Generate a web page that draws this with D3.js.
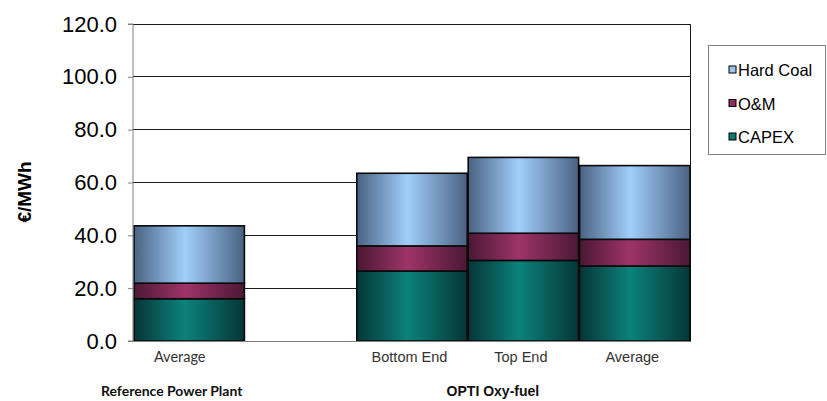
<!DOCTYPE html>
<html>
<head>
<meta charset="utf-8">
<script src="https://cdn.jsdelivr.net/npm/d3@7"></script>
<style>
  html, body { margin: 0; padding: 0; background: #fff; }
  svg { display: block; }
</style>
</head>
<body>
<svg id="chart" width="827" height="401"></svg>
<script>
// Cost of electricity breakdown (€/MWh)
const categories = ["Average", "", "Bottom End", "Top End", "Average"];
const groups = ["Reference Power Plant", "OPTI Oxy-fuel"];
const groupSlots = [[0, 0], [2, 4]];
const capex = [16.0, null, 26.5, 30.5, 28.4];
const om = [5.9, null, 9.5, 10.3, 10.1];
const hardCoal = [21.7, null, 27.5, 28.7, 27.9];
const seriesNames = ["CAPEX", "O&M", "Hard Coal"];
const yTicks = [0, 20, 40, 60, 80, 100, 120];

const palette = {
  "CAPEX":     { dark: "#063638", light: "#0b827a", swatch: "#0b7a72" },
  "O&M":       { dark: "#4b1834", light: "#9e3468", swatch: "#8c2d5c" },
  "Hard Coal": { dark: "#4a6282", light: "#a0cffb", swatch: "#9cc6ee" }
};

const svg = d3.select("#chart");
const plot = { left: 133, right: 690, top: 24, bottom: 341 };

const x = d3.scaleBand()
  .domain(d3.range(categories.length))
  .range([plot.left, plot.right])
  .paddingInner(0).paddingOuter(0);

const y = d3.scaleLinear().domain([0, 120]).range([plot.bottom, plot.top]);

// horizontal cylinder-like shading for each series
const defs = svg.append("defs");
seriesNames.forEach((name, i) => {
  const g = defs.append("linearGradient")
    .attr("id", "grad" + i)
    .attr("x1", "0%").attr("x2", "100%").attr("y1", "0%").attr("y2", "0%");
  g.append("stop").attr("offset", "0%").attr("stop-color", palette[name].dark);
  g.append("stop").attr("offset", "46%").attr("stop-color", palette[name].light);
  g.append("stop").attr("offset", "100%").attr("stop-color", palette[name].dark);
});

// gridlines
svg.append("g")
  .selectAll("line")
  .data(yTicks.filter(d => d > 0))
  .join("line")
  .attr("x1", plot.left).attr("x2", plot.right)
  .attr("y1", d => y(d)).attr("y2", d => y(d))
  .attr("stroke", "#1a1a1a").attr("stroke-width", 1)
  .attr("shape-rendering", "crispEdges");

// right border of the plot area
svg.append("line")
  .attr("x1", plot.right).attr("x2", plot.right)
  .attr("y1", plot.top).attr("y2", plot.bottom)
  .attr("stroke", "#1a1a1a").attr("stroke-width", 1)
  .attr("shape-rendering", "crispEdges");

// stacked bars
const rows = categories.map((c, i) => ({
  i, "CAPEX": capex[i], "O&M": om[i], "Hard Coal": hardCoal[i]
})).filter(r => r["CAPEX"] != null);

const stack = d3.stack().keys(seriesNames)(rows);

const barLayer = svg.append("g");
stack.forEach((layer, si) => {
  barLayer.append("g")
    .selectAll("rect")
    .data(layer)
    .join("rect")
    .attr("x", d => x(d.data.i) + 1)
    .attr("width", x.bandwidth() - 1)
    .attr("y", d => y(d[1]))
    .attr("height", d => y(d[0]) - y(d[1]))
    .attr("fill", `url(#grad${si})`)
    .attr("stroke", "#0a0a0a")
    .attr("stroke-width", 1.6);
});

// y axis
const yAxis = d3.axisLeft(y)
  .tickValues(yTicks)
  .tickFormat(d3.format(".1f"))
  .tickSize(5)
  .tickPadding(11);

const yg = svg.append("g")
  .attr("transform", `translate(${plot.left},0)`)
  .call(yAxis);
yg.select(".domain").attr("stroke", "#808080").attr("d", `M-5,${plot.top}H0V${plot.bottom}H-5`);
yg.selectAll(".tick line").attr("stroke", "#808080");
yg.selectAll(".tick text")
  .attr("fill", "#000")
  .style("font-family", "Liberation Sans, Arial, sans-serif")
  .style("font-size", "22px");

// x axis baseline
svg.append("line")
  .attr("x1", plot.left).attr("x2", plot.right)
  .attr("y1", plot.bottom).attr("y2", plot.bottom)
  .attr("stroke", "#808080").attr("stroke-width", 1)
  .attr("shape-rendering", "crispEdges");

// category labels
svg.append("g")
  .selectAll("text")
  .data(categories.map((c, i) => ({ c, i })).filter(d => d.c))
  .join("text")
  .attr("x", d => x(d.i) + x.bandwidth() / 2 + (d.i === 0 ? -9 : -2))
  .attr("y", 362)
  .attr("text-anchor", "middle")
  .attr("fill", "#333")
  .style("font-family", d => d.i === 0 ? "Lato, 'Open Sans', sans-serif" : "Liberation Sans, Arial, sans-serif")
  .style("font-size", "14.5px")
  .text(d => d.c);

// group labels
svg.append("g")
  .selectAll("text")
  .data(groups.map((g, k) => ({ g, k })))
  .join("text")
  .attr("x", d => {
    const [a, b] = groupSlots[d.k];
    const mid = (x(a) + x(b) + x.bandwidth()) / 2;
    return d.k === 0 ? mid - 17 : mid - 30;
  })
  .attr("y", 396)
  .attr("text-anchor", "middle")
  .attr("fill", "#111")
  .style("font-family", d => d.k === 0 ? "Lato, 'Open Sans', sans-serif" : "Liberation Sans, Arial, sans-serif")
  .style("font-weight", "bold")
  .style("font-size", "14px")
  .text(d => d.g);

// y axis title
svg.append("text")
  .attr("transform", "translate(31,192) rotate(-90)")
  .attr("text-anchor", "middle")
  .attr("fill", "#000")
  .style("font-family", "Liberation Sans, Arial, sans-serif")
  .style("font-weight", "bold")
  .style("font-size", "19px")
  .text("€/MWh");

// legend
const legend = svg.append("g").attr("transform", "translate(708,45)");
legend.append("rect")
  .attr("x", 0.5).attr("y", 0.5)
  .attr("width", 117).attr("height", 109)
  .attr("fill", "#fff")
  .attr("stroke", "#808080");

const legendOrder = ["Hard Coal", "O&M", "CAPEX"];
const li = legend.selectAll("g.item")
  .data(legendOrder)
  .join("g")
  .attr("class", "item")
  .attr("transform", (d, i) => `translate(0,${25 + i * 33.5})`);
li.append("rect")
  .attr("x", 21).attr("y", -4)
  .attr("width", 7).attr("height", 7)
  .attr("fill", d => palette[d].swatch)
  .attr("stroke", "#000").attr("stroke-width", 1);
li.append("text")
  .attr("x", 30).attr("y", 6)
  .attr("fill", "#000")
  .style("font-family", "Liberation Sans, Arial, sans-serif")
  .style("font-size", "16.5px")
  .text(d => d);
</script>
</body>
</html>
